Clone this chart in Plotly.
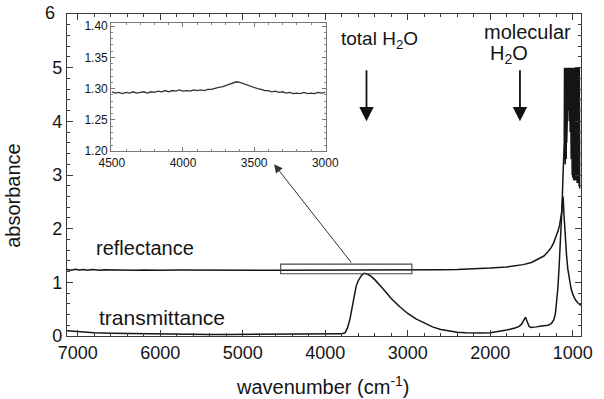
import plotly.graph_objects as go

# ---------------- data ----------------
refl_wn = [7130, 7080, 7030, 6980, 6930, 6880, 6830, 6780, 6730, 6680, 6600, 6500, 6400, 6300,
           6200, 6100, 6000, 5800, 5600, 5400, 5200, 5000, 4800, 4600, 4400, 4200, 4000, 3800,
           3600, 3400, 3200, 3000, 2800, 2600, 2400, 2200, 2000, 1800, 1700, 1600, 1500, 1400,
           1350, 1300, 1260, 1230, 1200, 1180, 1160, 1145, 1135, 1127, 1120, 1115, 1108, 1100,
           1090, 1075, 1060, 1040, 1020, 1000, 970, 940, 910, 900]
refl_val = [1.24, 1.225, 1.245, 1.23, 1.24, 1.225, 1.24, 1.23, 1.225, 1.235, 1.23, 1.225, 1.23, 1.225,
            1.23, 1.225, 1.225, 1.228, 1.225, 1.225, 1.225, 1.225, 1.225, 1.225, 1.225, 1.225, 1.225, 1.225,
            1.228, 1.225, 1.225, 1.225, 1.23, 1.235, 1.24, 1.25, 1.265, 1.285, 1.305, 1.33, 1.37, 1.44,
            1.49, 1.57, 1.65, 1.74, 1.85, 1.95, 2.06, 2.17, 2.3, 2.45, 2.6, 2.55, 2.3, 2.05,
            1.8, 1.5, 1.25, 1.03, 0.88, 0.78, 0.68, 0.62, 0.58, 0.57]

trans_wn = [7130, 7000, 6800, 6600, 6400, 6200, 6000, 5800, 5600, 5400, 5200, 5000, 4800, 4600,
            4400, 4200, 4000, 3900, 3800, 3760, 3730, 3700, 3675, 3650, 3625, 3600, 3580, 3560,
            3530, 3500, 3450, 3400, 3300, 3200, 3100, 3000, 2900, 2800, 2700, 2600, 2500, 2400,
            2300, 2200, 2100, 2000, 1900, 1800, 1700, 1650, 1620, 1600, 1585, 1572, 1560, 1545,
            1530, 1510, 1480, 1440, 1400, 1350, 1300, 1260, 1230, 1210, 1195, 1180, 1165, 1150,
            1140, 1130, 1120, 1110, 1103,
            1100, 1097, 1094, 1091, 1088, 1085, 1082, 1079, 1076, 1073, 1070, 1067, 1064, 1061,
            1058, 1055, 1052, 1049, 1046, 1043, 1040, 1037, 1034, 1031, 1028, 1025, 1022, 1019,
            1016, 1013, 1010, 1007, 1004, 1001, 998, 995, 992, 989, 986, 983, 980, 977, 974, 971,
            968, 965, 962, 959, 956, 953, 950, 947, 944, 941, 938, 935, 932, 929, 926, 923, 920, 917]
trans_val = [0.1, 0.08, 0.06, 0.05, 0.045, 0.04, 0.04, 0.035, 0.035, 0.03, 0.03, 0.03, 0.03, 0.03,
             0.03, 0.03, 0.03, 0.03, 0.04, 0.06, 0.15, 0.32, 0.55, 0.76, 0.93, 1.03, 1.09, 1.13,
             1.17, 1.16, 1.12, 1.05, 0.88, 0.7, 0.55, 0.42, 0.32, 0.24, 0.17, 0.12, 0.09, 0.07,
             0.06, 0.055, 0.055, 0.06, 0.08, 0.11, 0.15, 0.18, 0.22, 0.28, 0.34, 0.35, 0.3, 0.22,
             0.18, 0.16, 0.16, 0.17, 0.18, 0.19, 0.2, 0.23, 0.3, 0.42, 0.62, 0.9, 1.3, 1.7,
             2.0, 2.4, 2.9, 3.3, 3.6,
             5.0, 3.3, 5.0, 3.2, 5.0, 3.4, 5.0, 3.3, 5.0, 3.6, 5.0, 4.0, 5.0, 4.2,
             5.0, 4.3, 5.0, 4.1, 5.0, 4.0, 5.0, 3.9, 5.0, 3.8, 5.0, 3.6, 5.0, 3.3,
             5.0, 3.1, 5.0, 3.0, 5.0, 2.95, 5.0, 3.0, 5.0, 2.9, 5.0, 3.0, 5.0, 2.9, 5.0, 2.95,
             5.0, 3.0, 5.0, 2.9, 5.0, 3.0, 5.0, 2.85, 5.0, 2.9, 5.0, 2.85, 5.0, 2.8, 5.0, 2.8, 5.0, 2.75]

inset_wn = [4500, 4475, 4450, 4425, 4400, 4375, 4350, 4325, 4300, 4275, 4250, 4225, 4200, 4175,
            4150, 4125, 4100, 4075, 4050, 4025, 4000, 3975, 3950, 3925, 3900, 3875, 3850, 3825,
            3800, 3775, 3750, 3725, 3700, 3675, 3650, 3625, 3600, 3575, 3550, 3525, 3500, 3475,
            3450, 3425, 3400, 3375, 3350, 3325, 3300, 3275, 3250, 3225, 3200, 3175, 3150, 3125,
            3100, 3075, 3050, 3025, 3000]
inset_val = [1.295, 1.293, 1.294, 1.292, 1.294, 1.293, 1.295, 1.293, 1.294, 1.295, 1.293, 1.295, 1.294, 1.296,
             1.295, 1.297, 1.295, 1.297, 1.296, 1.298, 1.296, 1.297, 1.296, 1.298, 1.297, 1.298, 1.297, 1.299,
             1.299, 1.301, 1.302, 1.303, 1.305, 1.307, 1.309, 1.311, 1.310, 1.308, 1.305, 1.303, 1.302, 1.300,
             1.299, 1.297, 1.297, 1.295, 1.296, 1.294, 1.295, 1.293, 1.294, 1.292, 1.293, 1.292, 1.294, 1.292,
             1.293, 1.292, 1.294, 1.293, 1.294]

x_ticks = [7000, 6000, 5000, 4000, 3000, 2000, 1000]
y_ticks = [0, 1, 2, 3, 4, 5, 6]
# the top label "6" is drawn as an annotation so it does not push the top margin
y_tick_text = ["0", "1", "2", "3", "4", "5", ""]
top_y_label = "6"
inset_x_ticks = [4500, 4000, 3500, 3000]
inset_y_ticks = [1.20, 1.25, 1.30, 1.35, 1.40]

# ---------------- layout helpers ----------------
W, H = 604, 399
L, R, T, B = 67, 591, 10, 336


def px(x):
    return (x - L) / (R - L)


def py(y):
    return (B - y) / (B - T)


FONT = "Liberation Sans, Arial, Helvetica, sans-serif"
TXT = "#151515"
LINE = "#151515"
AX = "#3a3a3a"

fig = go.Figure()
fig.add_trace(go.Scatter(x=refl_wn, y=refl_val, mode="lines",
                         line=dict(color=LINE, width=1.5), showlegend=False, hoverinfo="skip"))
fig.add_trace(go.Scatter(x=trans_wn, y=trans_val, mode="lines",
                         line=dict(color=LINE, width=1.5), showlegend=False, hoverinfo="skip"))
fig.add_trace(go.Scatter(x=inset_wn, y=inset_val, mode="lines", xaxis="x2", yaxis="y2",
                         line=dict(color="#333333", width=1.3), showlegend=False, hoverinfo="skip"))

axis_common = dict(showline=True, linecolor=AX, linewidth=1.3, mirror="allticks",
                   ticks="inside", tickcolor=AX, tickwidth=1.2, showgrid=False, zeroline=False)

fig.update_layout(
    width=W, height=H,
    margin=dict(l=L, r=W - R, t=T, b=H - B),
    paper_bgcolor="white", plot_bgcolor="white",
    font=dict(family=FONT, color=TXT),
    xaxis=dict(range=[7130, 900], tickvals=x_ticks, ticklen=6,
               minor=dict(dtick=200, tick0=1000, ticks="inside", ticklen=3, tickcolor=AX),
               tickfont=dict(size=18, color=TXT), **axis_common),
    yaxis=dict(range=[0, 6], tickvals=y_ticks, ticktext=y_tick_text, ticklen=6,
               minor=dict(dtick=0.2, tick0=0, ticks="inside", ticklen=3, tickcolor=AX),
               tickfont=dict(size=18, color=TXT), **axis_common),
    xaxis2=dict(domain=[px(112), px(331)], anchor="y2", range=[4505, 2995],
                tickvals=inset_x_ticks, ticklen=4, ticks="inside",
                minor=dict(dtick=100, tick0=3000, ticks="inside", ticklen=2, tickcolor="#888888"),
                showline=True, linecolor="#777777", linewidth=1, mirror="allticks",
                tickcolor="#777777", showgrid=False, zeroline=False,
                tickfont=dict(size=12, color=TXT)),
    yaxis2=dict(domain=[py(149), py(19)], anchor="x2", range=[1.2, 1.405],
                tickvals=inset_y_ticks, tickformat=".2f", ticklen=4, ticks="inside",
                minor=dict(dtick=0.01, tick0=1.2, ticks="inside", ticklen=2, tickcolor="#888888"),
                showline=True, linecolor="#777777", linewidth=1, mirror="allticks",
                tickcolor="#777777", showgrid=False, zeroline=False,
                tickfont=dict(size=12, color=TXT)),
)

# rectangle marking the zoomed region
fig.add_shape(type="rect", xref="x", yref="y", x0=4540, x1=2950, y0=1.16, y1=1.34,
              line=dict(color="#444444", width=1.1))

ann = []
# arrows
for wn in (3500, 1640):
    ann.append(dict(x=wn, y=4.0, ax=wn, ay=4.98, xref="x", yref="y", axref="x", ayref="y",
                    text="", showarrow=True, arrowhead=2, arrowsize=1.6, arrowwidth=1.8,
                    arrowcolor="#111111", standoff=0))
ann.append(dict(x=4620, y=3.2, ax=3670, ay=1.34, xref="x", yref="y", axref="x", ayref="y",
                text="", showarrow=True, arrowhead=2, arrowsize=1.7, arrowwidth=1.0,
                arrowcolor="#333333", standoff=0))


def label(text, x, y, size, xanchor="center", angle=0):
    return dict(x=px(x), y=py(y), xref="paper", yref="paper", text=text, textangle=angle,
                xanchor=xanchor, yanchor="middle", showarrow=False,
                font=dict(size=size, color=TXT))


ann.append(label(top_y_label, 50, 9, 18))
ann.append(label("absorbance", 12, 194, 20, angle=-90))
ann.append(label("wavenumber (cm<sup>-1</sup>)", 328, 386, 20))
ann.append(label("reflectance", 147, 247, 20))
ann.append(label("transmittance", 164, 317, 21))
ann.append(label("total H<sub>2</sub>O", 344, 36, 19, xanchor="left"))
ann.append(label("molecular", 490, 28, 20, xanchor="left"))
ann.append(label("H<sub>2</sub>O", 496, 51, 20, xanchor="left"))
fig.update_layout(annotations=ann)

fig.write_html("out.html")
